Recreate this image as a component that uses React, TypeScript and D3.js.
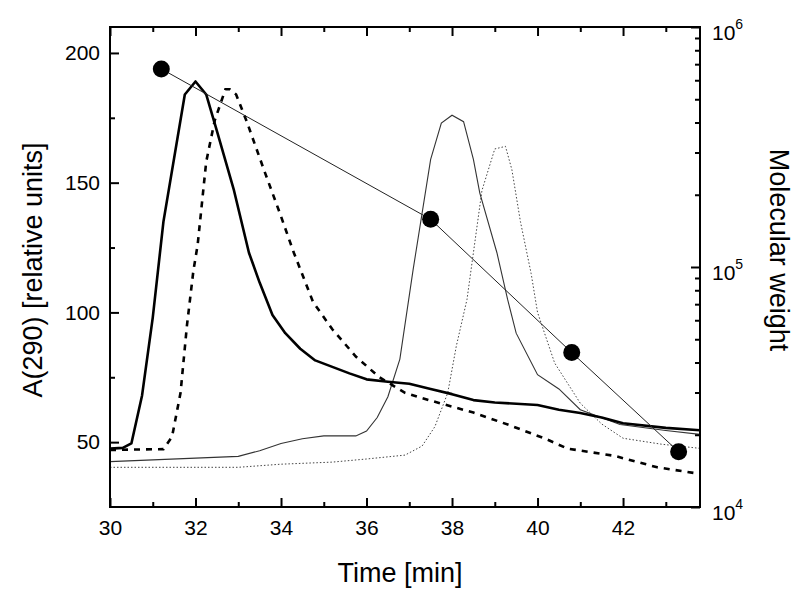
import { useEffect, useRef } from "react";
import * as d3 from "d3";

// elution profiles, [time (min), A(290)]
const thickSolid: [number, number][] = [
  [30.0, 47.5], [30.3, 47.8], [30.5, 49.5], [30.75, 68], [31.0, 98], [31.25, 135],
  [31.75, 184], [32.0, 189], [32.25, 184], [32.5, 170], [32.9, 147], [33.25, 123],
  [33.5, 111.5], [33.8, 99], [34.1, 92], [34.45, 86], [34.8, 81.5], [35.2, 79],
  [35.6, 76.5], [36.0, 74.2], [36.5, 73.3], [37.0, 72.5], [37.5, 70.5], [38.0, 68.5],
  [38.5, 66.2], [39.0, 65.3], [40.0, 64.3], [40.5, 62.5], [41.0, 61.2], [41.5, 59.5],
  [42.0, 57.3], [43.0, 55.5], [43.8, 54.6],
];

const dashed: [number, number][] = [
  [30.0, 47], [31.25, 47.3], [31.45, 52], [31.65, 69], [31.8, 95], [31.95, 116],
  [32.05, 126], [32.25, 158], [32.45, 174], [32.7, 186], [32.8, 186], [32.95, 184],
  [33.2, 173.5], [33.6, 155], [34.0, 137], [34.3, 123], [34.75, 104], [35.2, 93.5],
  [35.75, 83], [36.3, 75], [36.9, 69], [37.5, 66], [38.5, 61.4], [39.35, 56.5],
  [40.2, 51.2], [40.7, 47.5], [41.8, 44.7], [42.8, 40.3], [43.7, 38],
];

const thinSolid: [number, number][] = [
  [30.0, 42.5], [33.0, 44.5], [33.5, 46.7], [34.0, 49.5], [34.5, 51.3], [35.0, 52.4],
  [35.75, 52.4], [36.0, 54.3], [36.25, 59.5], [36.5, 67.5], [36.78, 82], [37.09, 116.5],
  [37.5, 159], [37.75, 173], [38.0, 176], [38.27, 173.5], [38.5, 159], [38.65, 146],
  [39.05, 123], [39.3, 105], [39.5, 92], [40.0, 76], [40.5, 70.5], [41.0, 62.5],
  [41.93, 56.8], [43.0, 54.5], [43.8, 53],
];

const dotted: [number, number][] = [
  [30.0, 40.3], [33.0, 40.3], [34.0, 41.5], [35.2, 42.3], [36.0, 43.5], [36.9, 45],
  [37.3, 48.5], [37.6, 56], [37.9, 69], [38.1, 87], [38.35, 105], [38.5, 123],
  [38.7, 147], [39.0, 163], [39.25, 164], [39.4, 155], [39.6, 135], [39.85, 115],
  [40.0, 100], [40.4, 80.5], [41.0, 65], [41.5, 57], [42.0, 51.5], [42.9, 49.2],
  [43.8, 47.6],
];

// calibration standards
const calTime = [31.2, 37.5, 40.8, 43.3];
const calMW = [669000, 158000, 44000, 17000];

const xMajor = [30, 32, 34, 36, 38, 40, 42];
const xMinor = [31, 33, 35, 37, 39, 41, 43];
const yMajor = [50, 100, 150, 200];
const yMinor = [75, 125, 175];
const mwMajor = [1e4, 1e5, 1e6];
const mwExp = ["4", "5", "6"];
const mwMinor = [2e4, 3e4, 4e4, 5e4, 6e4, 7e4, 8e4, 9e4, 2e5, 3e5, 4e5, 5e5, 6e5, 7e5, 8e5, 9e5];

export default function App() {
  const ref = useRef<SVGSVGElement>(null);

  useEffect(() => {
    const svg = d3.select(ref.current);
    svg.selectAll("*").remove();

    const left = 110, right = 700, top = 27, bottom = 507;
    const font = "'Liberation Sans', Arial, sans-serif";

    const x = d3.scaleLinear().domain([30, 43.8]).range([left, right]);
    const y = d3.scaleLinear().domain([25, 210]).range([bottom, top]);
    const yMW = d3.scaleLog().domain([1e4, 1e6]).range([bottom, top]);

    svg.append("defs").append("clipPath").attr("id", "plot-clip")
      .append("rect")
      .attr("x", left).attr("y", top)
      .attr("width", right - left).attr("height", bottom - top);

    const line = d3.line<[number, number]>()
      .x(d => x(d[0]))
      .y(d => y(d[1]));

    const plot = svg.append("g").attr("clip-path", "url(#plot-clip)");

    plot.append("path").datum(dotted)
      .attr("d", line).attr("fill", "none")
      .attr("stroke", "#444").attr("stroke-width", 1)
      .attr("stroke-dasharray", "1.5,2");

    plot.append("path").datum(thinSolid)
      .attr("d", line).attr("fill", "none")
      .attr("stroke", "#333").attr("stroke-width", 1.1);

    plot.append("path").datum(dashed)
      .attr("d", line).attr("fill", "none")
      .attr("stroke", "#000").attr("stroke-width", 2.6)
      .attr("stroke-dasharray", "6,6");

    plot.append("path").datum(thickSolid)
      .attr("d", line).attr("fill", "none")
      .attr("stroke", "#000").attr("stroke-width", 2.6)
      .attr("stroke-linejoin", "round");

    // calibration curve on log scale
    const cal = calTime.map((t, i) => [t, calMW[i]] as [number, number]);
    const calLine = d3.line<[number, number]>()
      .x(d => x(d[0]))
      .y(d => yMW(d[1]));
    plot.append("path").datum(cal)
      .attr("d", calLine).attr("fill", "none")
      .attr("stroke", "#222").attr("stroke-width", 1);
    svg.append("g").selectAll("circle").data(cal).join("circle")
      .attr("cx", d => x(d[0])).attr("cy", d => yMW(d[1]))
      .attr("r", 8.5).attr("fill", "#000");

    // axes
    const axisStyle = (g: any) => {
      g.select(".domain").remove();
      g.selectAll("line").attr("stroke", "#000").attr("stroke-width", 2);
      g.selectAll("text").attr("font-family", font).attr("font-size", 21).attr("fill", "#000");
    };

    svg.append("g").attr("transform", `translate(0,${bottom})`)
      .call(d3.axisBottom(x).tickValues(xMajor).tickSize(-9).tickPadding(13).tickFormat(d3.format("d")))
      .call(axisStyle);
    svg.append("g").attr("transform", `translate(0,${bottom})`)
      .call(d3.axisBottom(x).tickValues(xMinor).tickSize(-5).tickFormat(() => ""))
      .call(axisStyle);
    svg.append("g").attr("transform", `translate(0,${top})`)
      .call(d3.axisTop(x).tickValues(xMajor).tickSize(-9).tickFormat(() => ""))
      .call(axisStyle);
    svg.append("g").attr("transform", `translate(0,${top})`)
      .call(d3.axisTop(x).tickValues(xMinor).tickSize(-5).tickFormat(() => ""))
      .call(axisStyle);

    svg.append("g").attr("transform", `translate(${left},0)`)
      .call(d3.axisLeft(y).tickValues(yMajor).tickSize(-9).tickPadding(10).tickFormat(d3.format("d")))
      .call(axisStyle);
    svg.append("g").attr("transform", `translate(${left},0)`)
      .call(d3.axisLeft(y).tickValues(yMinor).tickSize(-5).tickFormat(() => ""))
      .call(axisStyle);

    svg.append("g").attr("transform", `translate(${right},0)`)
      .call(d3.axisRight(yMW).tickValues(mwMajor).tickSize(-9).tickFormat(() => ""))
      .call(axisStyle);
    svg.append("g").attr("transform", `translate(${right},0)`)
      .call(d3.axisRight(yMW).tickValues(mwMinor).tickSize(-5).tickFormat(() => ""))
      .call(axisStyle);

    // 10^n labels
    const mwLabels = svg.append("g");
    mwMajor.forEach((v, i) => {
      const t = mwLabels.append("text")
        .attr("x", right + 12).attr("y", yMW(v) + 13)
        .attr("font-family", font).attr("font-size", 21);
      t.append("tspan").text("10");
      t.append("tspan").attr("font-size", 14).attr("dy", -11).text(mwExp[i]);
    });

    svg.append("rect")
      .attr("x", left).attr("y", top)
      .attr("width", right - left).attr("height", bottom - top)
      .attr("fill", "none").attr("stroke", "#000").attr("stroke-width", 2);

    // axis titles
    svg.append("text")
      .attr("x", (left + right) / 2 - 5).attr("y", 582)
      .attr("text-anchor", "middle")
      .attr("font-family", font).attr("font-size", 27)
      .text("Time [min]");

    svg.append("g")
      .attr("transform", `translate(42, 270)`)
      .append("text")
      .attr("transform", "rotate(-90)")
      .attr("text-anchor", "middle")
      .attr("font-family", font).attr("font-size", 27)
      .text("A(290) [relative units]");

    svg.append("g")
      .attr("transform", `translate(770, 250)`)
      .append("text")
      .attr("transform", "rotate(90)")
      .attr("text-anchor", "middle")
      .attr("font-family", font).attr("font-size", 27)
      .text("Molecular weight");
  }, []);

  return (
    <svg
      ref={ref}
      width={800}
      height={600}
      style={{ position: "absolute", left: 0, top: 0, background: "#fff" }}
    />
  );
}
